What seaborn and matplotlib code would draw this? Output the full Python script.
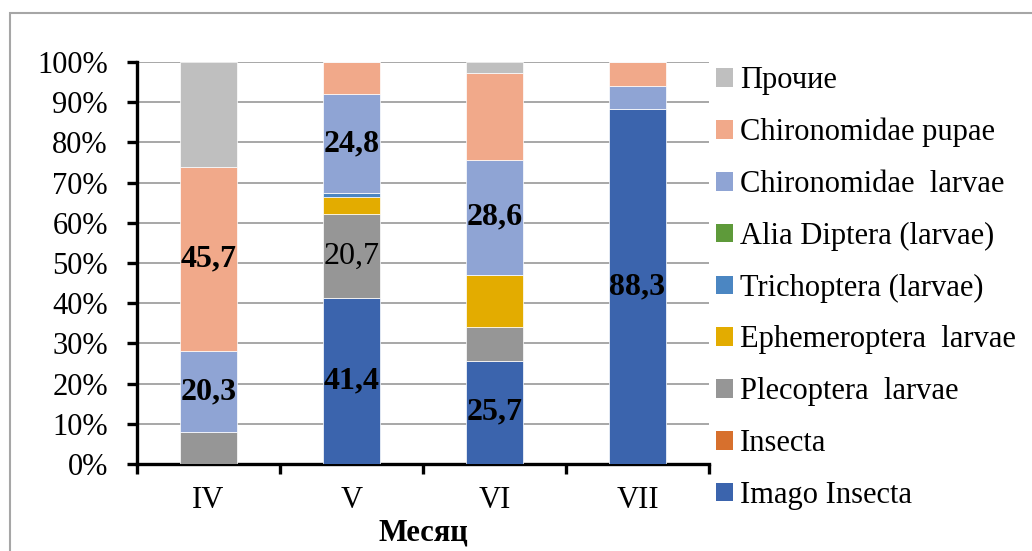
import matplotlib
matplotlib.use("Agg")
import matplotlib.pyplot as plt
import seaborn as sns
import pandas as pd
import numpy as np
from matplotlib.patches import Rectangle, Patch
from matplotlib.ticker import FixedLocator

months = ["IV", "V", "VI", "VII"]
imago_insecta = [0.0, 41.4, 25.7, 88.3]
insecta = [0.0, 0.0, 0.0, 0.0]
plecoptera = [7.9, 20.7, 8.4, 0.0]
ephemeroptera = [0.0, 4.2, 13.0, 0.0]
trichoptera = [0.0, 1.0, 0.0, 0.0]
alia_diptera = [0.0, 0.0, 0.0, 0.0]
chir_larvae = [20.3, 24.8, 28.6, 5.8]
chir_pupae = [45.7, 7.9, 21.5, 5.9]
prochie = [26.1, 0.0, 2.8, 0.0]

series_names = ["Imago Insecta", "Insecta", "Plecoptera  larvae", "Ephemeroptera  larvae",
                "Trichoptera (larvae)", "Alia Diptera (larvae)", "Chironomidae  larvae",
                "Chironomidae pupae", "Прочие"]
series_values = [imago_insecta, insecta, plecoptera, ephemeroptera, trichoptera,
                 alia_diptera, chir_larvae, chir_pupae, prochie]
colors = ["#3B64AD", "#D7702D", "#969696", "#E3AC00", "#4B86C2", "#5E9A3A",
          "#8FA4D4", "#F1A98A", "#BFBFBF"]

# labels shown on the bars
bold_labels = {("Chironomidae  larvae", "IV"), ("Chironomidae pupae", "IV"),
               ("Imago Insecta", "V"), ("Chironomidae  larvae", "V"),
               ("Imago Insecta", "VI"), ("Chironomidae  larvae", "VI"),
               ("Imago Insecta", "VII")}
normal_labels = {("Plecoptera  larvae", "V")}

FS = 22
plt.rcParams['font.family'] = ['Liberation Serif', 'DejaVu Serif']
plt.rcParams['font.size'] = FS

fig = plt.figure(figsize=(10.32, 5.51), dpi=100)
ax = fig.add_axes([137/1032, 1 - 464/551, (709-137)/1032, (464-62)/551])

# outer border
fig.patches.append(Rectangle((10/1032, -0.05), 1.1, 1 - 13/551 + 0.05, transform=fig.transFigure,
                             fill=False, edgecolor="#A6A6A6", linewidth=1.5))

bottom = np.zeros(len(months))
for name, vals, col in zip(series_names, series_values, colors):
    df = pd.DataFrame({"month": months, "value": vals})
    sns.barplot(data=df, x="month", y="value", order=months, color=col, width=0.4,
                bottom=bottom, ax=ax, edgecolor="white", linewidth=0.5,
                saturation=1, errorbar=None, zorder=3)
    cont = ax.containers[-1]
    lb_bold = []
    lb_norm = []
    for m, v in zip(months, vals):
        s = f"{v:.1f}".replace(".", ",")
        lb_bold.append(s if (name, m) in bold_labels else "")
        lb_norm.append(s if (name, m) in normal_labels else "")
    if any(lb_bold):
        ax.bar_label(cont, labels=lb_bold, label_type="center", fontsize=FS + 1,
                     fontweight="bold", color="black", zorder=5)
    if any(lb_norm):
        ax.bar_label(cont, labels=lb_norm, label_type="center", fontsize=FS + 1,
                     fontweight="normal", color="black", zorder=5)
    bottom = bottom + np.array(vals)

ax.set_xlim(-0.5, len(months) - 0.5)
ax.set_ylim(0, 100)
ax.set_yticks(np.arange(0, 101, 10))
ax.set_yticklabels([f"{t}%" for t in range(0, 101, 10)])
ax.yaxis.grid(True, color="#A0A0A0", linewidth=1.3, zorder=0)
ax.set_axisbelow(True)
ax.tick_params(axis="y", length=7, width=2.4, pad=14, labelsize=FS, color="black")
ax.tick_params(axis="x", which="major", length=0, pad=16, labelsize=FS)
ax.xaxis.set_minor_locator(FixedLocator(np.arange(-0.5, len(months), 1.0)))
ax.tick_params(axis="x", which="minor", length=7, width=2.4, color="black")
for s in ["top", "right"]:
    ax.spines[s].set_visible(False)
for s in ["left", "bottom"]:
    ax.spines[s].set_linewidth(2.4)
    ax.spines[s].set_color("black")
ax.set_ylabel("")
ax.set_xlabel("Месяц", fontsize=FS, fontweight="bold", labelpad=2)

handles = [Patch(facecolor=c, edgecolor="none") for c in colors][::-1]
labels = series_names[::-1]
fig.legend(handles, labels, loc="upper left", bbox_to_anchor=(716/1032, 1 - 66/551),
           frameon=False, fontsize=FS, handlelength=0.56, handleheight=0.56,
           handletextpad=0.23, labelspacing=0.745, borderaxespad=0, borderpad=0)

fig.savefig("out.png", dpi=100)
